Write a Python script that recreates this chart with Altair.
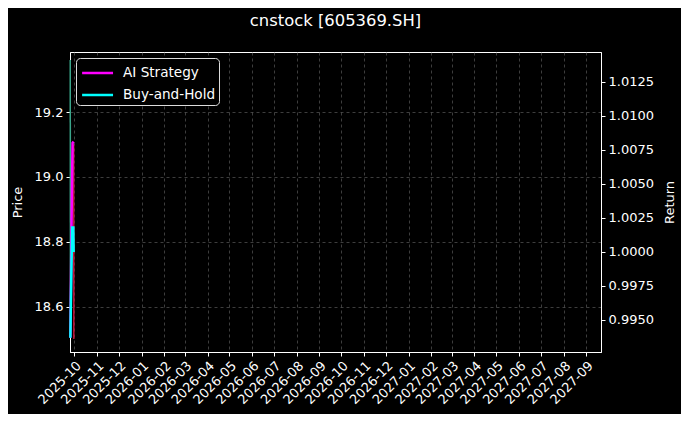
import pandas as pd
import altair as alt

# --- data ---
price_time = ["2025-09-25T08:00:00", "2025-09-25T14:00:00"]
price_value = [19.36, 18.52]

signal_time = ["2025-09-30T00:00:00", "2025-09-30T06:00:00"]
signal_value = [19.10, 18.50]

ai_time = ["2025-09-25T12:00:00", "2025-09-27T12:00:00", "2025-09-28T12:00:00", "2025-09-30T00:00:00"]
ai_return = [0.9937, 1.0040, 1.0080, 1.0081]

bh_time = ["2025-09-25T12:00:00", "2025-09-27T00:00:00", "2025-09-28T00:00:00",
           "2025-09-29T12:00:00", "2025-09-30T00:00:00"]
bh_return = [0.9937, 0.9990, 1.0018, 1.0018, 1.0000]

price_ticks = [18.6, 18.8, 19.0, 19.2]
return_ticks = [0.9950, 0.9975, 1.0000, 1.0025, 1.0050, 1.0075, 1.0100, 1.0125]

price_df = pd.concat([
    pd.DataFrame({"date": price_time, "price": price_value, "kind": "price"}),
    pd.DataFrame({"date": signal_time, "price": signal_value, "kind": "signal"}),
])
ret_df = pd.concat([
    pd.DataFrame({"date": ai_time, "ret": ai_return, "series": "AI Strategy"}),
    pd.DataFrame({"date": bh_time, "ret": bh_return, "series": "Buy-and-Hold"}),
])

x_enc = alt.X(
    "date:T", title=None,
    scale=alt.Scale(domain=[alt.DateTime(year=2025, month=9, date=25),
                            alt.DateTime(year=2027, month=9, date=21)]),
    axis=alt.Axis(format="%Y-%m", tickCount={"interval": "month", "step": 1},
                  labelAngle=-45, labelAlign="right", labelBaseline="top",
                  labelOverlap=False, labelFlush=False),
)

# price on the left axis (one y scale for both price-side lines)
price_lines = alt.Chart(price_df).mark_line(strokeWidth=1.5).encode(
    x=x_enc,
    y=alt.Y("price:Q", scale=alt.Scale(domain=[18.46, 19.385], nice=False, zero=False),
            axis=alt.Axis(values=price_ticks, format=".1f", title="Price", titlePadding=10)),
    color=alt.Color("kind:N", scale=alt.Scale(domain=["price", "signal"],
                                              range=["#3aa58a", "#c0143c"]),
                    legend=None),
    detail="kind:N",
)

ret_lines = alt.Chart(ret_df).mark_line(strokeWidth=2.5).encode(
    x=x_enc,
    y=alt.Y("ret:Q", scale=alt.Scale(domain=[0.99265, 1.01468], nice=False, zero=False),
            axis=alt.Axis(orient="right", values=return_ticks, format=".4f",
                          title="Return", titlePadding=10, titleAngle=270,
                          titleBaseline="top")),
    stroke=alt.Stroke("series:N",
                      scale=alt.Scale(domain=["AI Strategy", "Buy-and-Hold"],
                                      range=["#ff00ff", "#00ffff"]),
                      legend=alt.Legend(title=None, orient="top-left", offset=6,
                                        fillColor="black", strokeColor="#dddddd",
                                        cornerRadius=4, padding=3, rowPadding=3,
                                        symbolType="M-0.86,0H2.13", symbolSize=428,
                                        symbolStrokeWidth=2.5, labelFontSize=13.6,
                                        labelOffset=20, labelColor="white")),
    detail="series:N",
)

chart = alt.layer(price_lines, ret_lines).resolve_scale(
    y="independent", color="independent"
).properties(
    width=531, height=300,
    title=alt.TitleParams("cnstock [605369.SH]", fontSize=16.4, fontWeight="normal",
                          color="white", anchor="middle", offset=23),
    background="black",
    padding={"left": 62, "top": 44, "right": 80, "bottom": 62},
    autosize=alt.AutoSizeParams(type="none"),
).configure(
    font="DejaVu Sans"
).configure_view(
    stroke="white", strokeWidth=1
).configure_axis(
    domainColor="white", tickColor="white", labelColor="white", titleColor="white",
    labelFontSize=13, titleFontSize=13, titleFontWeight="normal", tickSize=4,
    labelPadding=3, grid=True, gridColor="#666666", gridDash=[3, 3], gridWidth=0.6,
)

chart.save("out.html", embed_options={"renderer": "svg", "actions": False})
